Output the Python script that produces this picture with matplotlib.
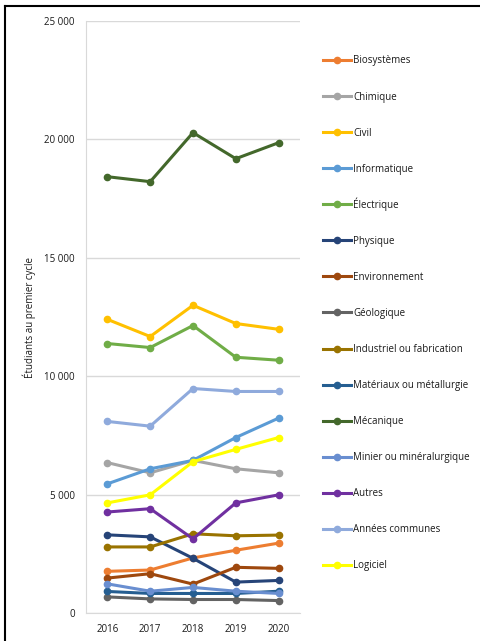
import matplotlib
matplotlib.use("Agg")
import matplotlib.pyplot as plt
from matplotlib.lines import Line2D
from matplotlib.ticker import FuncFormatter

plt.rcParams['font.family'] = ['Open Sans', 'DejaVu Sans']

years = ['2016', '2017', '2018', '2019', '2020']

biosystemes = [1760, 1815, 2325, 2650, 2950]
chimique = [6350, 5920, 6445, 6090, 5920]
civil = [12400, 11675, 12995, 12225, 11980]
informatique = [5455, 6090, 6445, 7410, 8230]
electrique = [11380, 11210, 12140, 10800, 10675]
physique = [3300, 3215, 2310, 1305, 1375]
environnement = [1475, 1660, 1220, 1930, 1885]
geologique = [680, 595, 570, 570, 525]
industriel = [2790, 2790, 3345, 3260, 3290]
materiaux = [910, 825, 825, 825, 920]
mecanique = [18425, 18215, 20285, 19185, 19860]
minier = [1230, 920, 1080, 920, 825]
autres = [4265, 4405, 3130, 4650, 4990]
annees_communes = [8090, 7890, 9480, 9355, 9355]
logiciel = [4650, 4990, 6390, 6910, 7410]

series = [
    ('Biosystèmes', biosystemes, '#ED7D31'),
    ('Chimique', chimique, '#A5A5A5'),
    ('Civil', civil, '#FFC000'),
    ('Informatique', informatique, '#5B9BD5'),
    ('Électrique', electrique, '#70AD47'),
    ('Physique', physique, '#264478'),
    ('Environnement', environnement, '#9E480E'),
    ('Géologique', geologique, '#636363'),
    ('Industriel ou fabrication', industriel, '#997300'),
    ('Matériaux ou métallurgie', materiaux, '#255E91'),
    ('Mécanique', mecanique, '#43682B'),
    ('Minier ou minéralurgique', minier, '#698ED0'),
    ('Autres', autres, '#7030A0'),
    ('Années communes', annees_communes, '#8FAADC'),
    ('Logiciel', logiciel, '#FFFF00'),
]

W, H = 480, 641
fig = plt.figure(figsize=(4.8, 6.41), dpi=100)
ax = fig.add_axes([86/W, 28/H, 214/W, 592/H])

x = range(len(years))
for name, vals, col in series:
    ax.plot(x, vals, color=col, lw=2.2, marker='o', ms=4.5, label=name)

ax.set_xlim(-0.5, 4.5)
ax.set_ylim(0, 25000)
ax.set_yticks(range(0, 25001, 5000))
ax.yaxis.set_major_formatter(FuncFormatter(lambda v, p: f'{int(v):,}'.replace(',', ' ')))
ax.set_xticks(list(x))
ax.set_xticklabels(years)
ax.grid(axis='y', color='#D9D9D9', lw=1)
ax.set_axisbelow(True)
for s in ['top', 'right']:
    ax.spines[s].set_visible(False)
for s in ['left', 'bottom']:
    ax.spines[s].set_color('#D9D9D9')
ax.tick_params(length=0, labelsize=7, colors='#1a1a1a', pad=8)
ax.set_ylabel('Étudiants au premier cycle', fontsize=7, color='#1a1a1a', labelpad=6)

# legend, evenly spaced entries on the right
y0, step = 60, 36.07
for i, (name, vals, col) in enumerate(series):
    ypx = y0 + i * step
    yy = 1 - ypx / H
    fig.add_artist(Line2D([323/W, 351/W], [yy, yy], color=col, lw=2.2, transform=fig.transFigure))
    fig.add_artist(Line2D([337/W], [yy], color=col, marker='o', ms=4.5, transform=fig.transFigure))
    fig.text(353/W, 1 - (ypx + 3.5) / H, name, fontsize=7, color='#1a1a1a', va='baseline', ha='left')

# outer frame (top and left only visible)
fig.add_artist(Line2D([5/W, 1], [1 - 6/H, 1 - 6/H], color='black', lw=1.5, transform=fig.transFigure))
fig.add_artist(Line2D([5/W, 5/W], [0, 1 - 6/H], color='black', lw=1.5, transform=fig.transFigure))

fig.savefig('out.png', dpi=100)
